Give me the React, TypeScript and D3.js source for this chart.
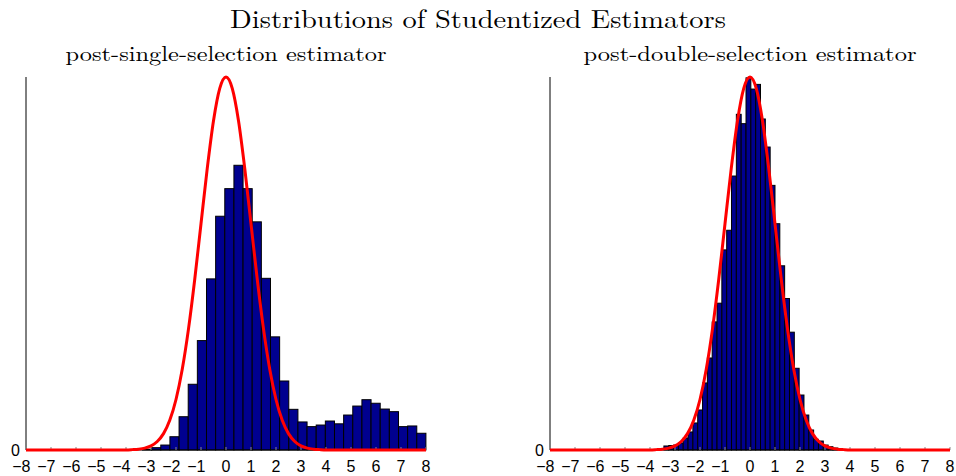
import React, { useEffect, useRef } from 'react';
import * as d3 from 'd3';

// histogram heights (density)
const leftBinStart = -3.34;
const leftBinWidth = 0.3657;
const leftDensity = [
  0.0009, 0.0025, 0.0053, 0.0142, 0.0356, 0.0703, 0.117, 0.183, 0.25, 0.2795,
  0.3045, 0.2795, 0.244, 0.1836, 0.121, 0.0738, 0.0435, 0.03, 0.025, 0.0267,
  0.031, 0.028, 0.0374, 0.047, 0.0538, 0.05, 0.0438, 0.041, 0.025, 0.0257, 0.0179,
];

const rightBinStart = -3.444;
const rightBinWidth = 0.1932;
const rightDensity = [
  0.0043, 0.0048, 0.0053, 0.0075, 0.0128, 0.0193, 0.0289, 0.0428, 0.0717, 0.0984,
  0.137, 0.157, 0.214, 0.235, 0.293, 0.359, 0.349, 0.398, 0.386, 0.391,
  0.354, 0.324, 0.283, 0.242, 0.197, 0.162, 0.126, 0.0874, 0.0588, 0.0374,
  0.0214, 0.0114, 0.0096, 0.0053, 0.0035, 0.0021,
];

// reference (red) density curve, read at quarter steps
const curveX = [
  -8, -4, -3.75, -3.5, -3.25, -3, -2.75, -2.5, -2.25, -2, -1.75, -1.5, -1.25, -1, -0.75, -0.5, -0.25,
  0, 0.25, 0.5, 0.75, 1, 1.25, 1.5, 1.75, 2, 2.25, 2.5, 2.75, 3, 3.25, 3.5, 3.75, 4, 8,
];
const curveY = [
  0, 0.0001, 0.0004, 0.0009, 0.002, 0.0044, 0.0091, 0.0175, 0.0317, 0.054, 0.0863, 0.1295, 0.1826,
  0.242, 0.3011, 0.3521, 0.3867, 0.3989, 0.3867, 0.3521, 0.3011, 0.242, 0.1826, 0.1295, 0.0863,
  0.054, 0.0317, 0.0175, 0.0091, 0.0044, 0.002, 0.0009, 0.0004, 0.0001, 0,
];

const xTicks = [-8, -7, -6, -5, -4, -3, -2, -1, 0, 1, 2, 3, 4, 5, 6, 7, 8];

const chartTitle = 'Distributions of Studentized Estimators';
const panelTitles = ['post-single-selection estimator', 'post-double-selection estimator'];

interface IPanel {
  title: string;
  binStart: number;
  binWidth: number;
  density: number[];
  x0: number;
  titleWidth: number;
}

const App: React.FC = () => {
  const ref = useRef<SVGSVGElement>(null);

  useEffect(() => {
    if (ref.current) drawChart(ref.current);
  }, []);

  return (
    <svg
      ref={ref}
      width={956}
      height={476}
      style={{ position: 'absolute', left: 0, top: 0, background: '#fff' }}
    />
  );
};

const drawChart = (el: SVGSVGElement) => {
  const svg = d3.select(el);
  svg.selectAll('*').remove();

  const top = 77;
  const bottom = 450;
  const panelW = 400;
  const serif = "'Latin Modern Roman', 'CMU Serif', 'Liberation Serif', serif";
  const sans = "'Liberation Sans', Arial, sans-serif";

  svg
    .append('text')
    .attr('x', 478)
    .attr('y', 28)
    .attr('text-anchor', 'middle')
    .attr('textLength', 496)
    .attr('lengthAdjust', 'spacingAndGlyphs')
    .style('font-family', serif)
    .style('font-size', '26px')
    .text(chartTitle);

  const panels: IPanel[] = [
    { title: panelTitles[0], binStart: leftBinStart, binWidth: leftBinWidth, density: leftDensity, x0: 26, titleWidth: 321 },
    { title: panelTitles[1], binStart: rightBinStart, binWidth: rightBinWidth, density: rightDensity, x0: 550, titleWidth: 333 },
  ];

  const yScale = d3.scaleLinear().domain([0, 0.3989]).range([bottom, top]);

  panels.forEach((p) => {
    const xScale = d3.scaleLinear().domain([-8, 8]).range([p.x0, p.x0 + panelW]);
    const g = svg.append('g');

    g.append('text')
      .attr('x', xScale(0))
      .attr('y', 61)
      .attr('text-anchor', 'middle')
      .attr('textLength', p.titleWidth)
      .attr('lengthAdjust', 'spacingAndGlyphs')
      .style('font-family', serif)
      .style('font-size', '21px')
      .text(p.title);

    // bars
    g.selectAll('rect.bar')
      .data(p.density)
      .enter()
      .append('rect')
      .attr('class', 'bar')
      .attr('x', (_, i) => xScale(p.binStart + i * p.binWidth))
      .attr('width', (_, i) => xScale(p.binStart + (i + 1) * p.binWidth) - xScale(p.binStart + i * p.binWidth))
      .attr('y', (d) => yScale(d))
      .attr('height', (d) => bottom - yScale(d))
      .attr('fill', '#00008f')
      .attr('stroke', '#000')
      .attr('stroke-width', 1);

    // axes
    g.append('line')
      .attr('x1', xScale(-8))
      .attr('x2', xScale(-8))
      .attr('y1', top)
      .attr('y2', bottom)
      .attr('stroke', '#000')
      .attr('stroke-width', 1);
    g.append('line')
      .attr('x1', xScale(-8))
      .attr('x2', xScale(8))
      .attr('y1', bottom)
      .attr('y2', bottom)
      .attr('stroke', '#000')
      .attr('stroke-width', 1);

    g.selectAll('line.tick')
      .data(xTicks)
      .enter()
      .append('line')
      .attr('class', 'tick')
      .attr('x1', (d) => xScale(d))
      .attr('x2', (d) => xScale(d))
      .attr('y1', bottom)
      .attr('y2', bottom - 3)
      .attr('stroke', '#888')
      .attr('stroke-width', 1);

    // curve
    const line = d3
      .line<number>()
      .x((d) => xScale(d))
      .y((_, i) => yScale(curveY[i]))
      .curve(d3.curveMonotoneX);

    g.append('path')
      .attr('d', line(curveX) || '')
      .attr('fill', 'none')
      .attr('stroke', '#ff0000')
      .attr('stroke-width', 3)
      .attr('stroke-linejoin', 'round');

    // tick labels: digit centred on tick, minus hangs left
    g.selectAll('text.xl')
      .data(xTicks)
      .enter()
      .append('text')
      .attr('class', 'xl')
      .attr('x', (d) => xScale(d) + 4.4)
      .attr('y', 472)
      .attr('text-anchor', 'end')
      .style('font-family', sans)
      .style('font-size', '16px')
      .text((d) => (d < 0 ? '\u2212' : '') + Math.abs(d));

    g.append('text')
      .attr('x', xScale(-8) - 6)
      .attr('y', bottom + 6)
      .attr('text-anchor', 'end')
      .style('font-family', sans)
      .style('font-size', '16px')
      .text('0');
  });
};

export default App;
